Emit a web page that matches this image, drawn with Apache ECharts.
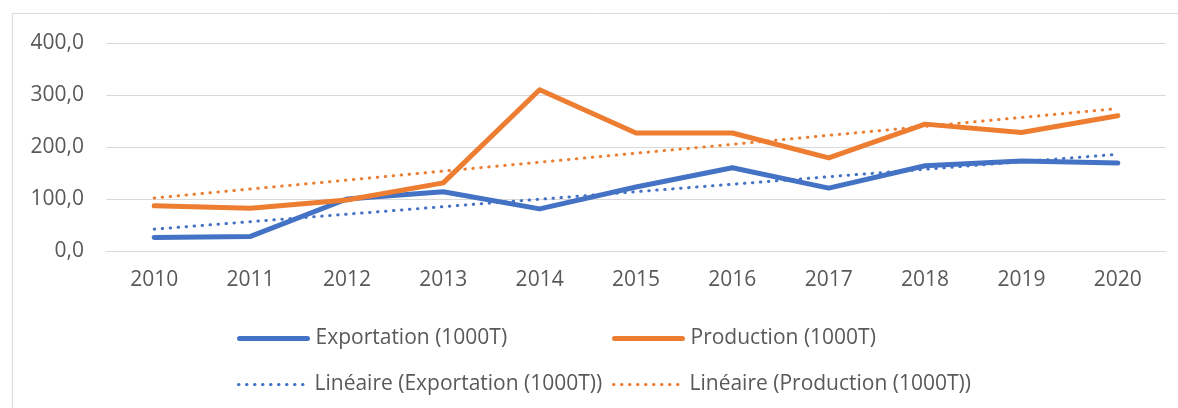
<!DOCTYPE html>
<html>
<head>
<meta charset="utf-8">
<script src="https://cdn.jsdelivr.net/npm/echarts@6/dist/echarts.min.js"></script>
<style>
	html, body { margin: 0; padding: 0; background: #fff; }
	#chart { width: 1178px; height: 408px; }
</style>
</head>
<body>
<div id="chart"></div>
<script>
	// données
	var years = ['2010', '2011', '2012', '2013', '2014', '2015', '2016', '2017', '2018', '2019', '2020'];
	var exportation = [26, 28, 100, 114, 81, 123, 160, 121, 164, 173, 169];
	var production = [87, 82, 98, 131, 310, 227, 227, 179, 244, 228, 260];
	// courbes de tendance : seulement les extrémités lues, reliées par connectNulls
	var trendExport = [42, null, null, null, null, null, null, null, null, null, 186];
	var trendProd = [102, null, null, null, null, null, null, null, null, null, 274];
	var yTicks = [0, 100, 400];

	var blue = '#4472C4';
	var orange = '#ED7D31';
	var txt = '#595959';
	var font = '"Open Sans", sans-serif';

	var myChart = echarts.init(document.getElementById('chart'));

	function legendAt(name, left, top, width) {
		return {
			data: [name],
			left: left,
			top: top,
			padding: 0,
			itemWidth: 68,
			itemHeight: 14,
			selectedMode: false,
			itemStyle: { opacity: 0 },
			lineStyle: { width: width, cap: 'round' },
			textStyle: { color: txt, fontSize: 21, fontFamily: font, padding: [0, 0, 0, 3] }
		};
	}

	myChart.setOption({
		animation: false,
		backgroundColor: '#fff',
		graphic: [{
			type: 'rect',
			shape: { x: 12.5, y: 13.5, width: 1200, height: 420 },
			style: { fill: 'none', stroke: '#d9d9d9', lineWidth: 1 },
			silent: true
		}],
		legend: [
			legendAt('Exportation (1000T)', 237, 328, 5),
			legendAt('Production (1000T)', 612, 328, 5),
			legendAt('Linéaire (Exportation (1000T))', 237, 374, 3),
			legendAt('Linéaire (Production (1000T))', 612, 374, 3)
		],
		grid: { left: 106, right: 12, top: 43, bottom: 157 },
		xAxis: {
			type: 'category',
			data: years,
			boundaryGap: true,
			axisLine: { lineStyle: { color: '#d9d9d9', width: 1 } },
			axisTick: { show: false },
			axisLabel: { color: txt, fontSize: 21, fontFamily: font, margin: 19 }
		},
		yAxis: {
			type: 'value',
			min: yTicks[0],
			max: yTicks[2],
			interval: yTicks[1],
			axisLine: { show: false },
			axisTick: { show: false },
			splitLine: { lineStyle: { color: '#d9d9d9', width: 1 } },
			axisLabel: {
				color: txt, fontSize: 21, fontFamily: font, margin: 22,
				formatter: function (v) { return v.toFixed(1).replace('.', ','); }
			}
		},
		series: [{
				name: 'Exportation (1000T)',
				type: 'line',
				data: exportation,
				symbol: 'none',
				color: blue,
				lineStyle: { color: blue, width: 5, cap: 'round', join: 'round' }
			},
			{
				name: 'Production (1000T)',
				type: 'line',
				data: production,
				symbol: 'none',
				color: orange,
				lineStyle: { color: orange, width: 5, cap: 'round', join: 'round' }
			},
			{
				name: 'Linéaire (Exportation (1000T))',
				type: 'line',
				data: trendExport,
				connectNulls: true,
				symbol: 'none',
				color: blue,
				lineStyle: { color: blue, width: 3, type: [0.5, 7.5], cap: 'round' }
			},
			{
				name: 'Linéaire (Production (1000T))',
				type: 'line',
				data: trendProd,
				connectNulls: true,
				symbol: 'none',
				color: orange,
				lineStyle: { color: orange, width: 3, type: [0.5, 7.5], cap: 'round' }
			}
		]
	});
</script>
</body>
</html>
